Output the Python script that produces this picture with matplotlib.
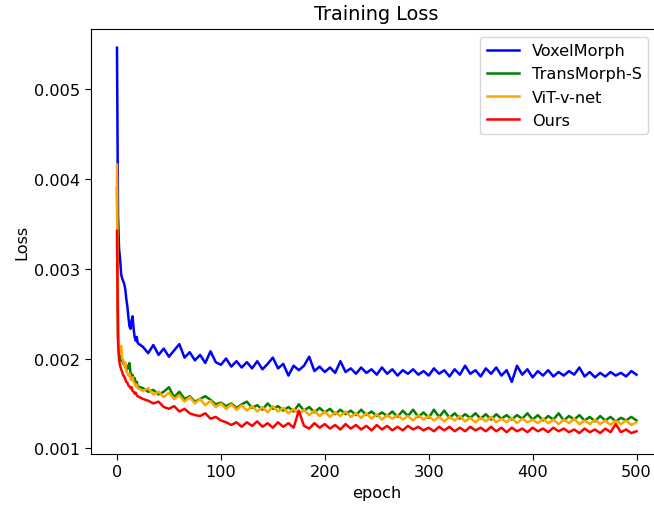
import numpy as np
import matplotlib
matplotlib.use("Agg")
import matplotlib.pyplot as plt

# epochs: every epoch up to 20, then every 5 epochs
EPOCHS = list(range(0, 21)) + list(range(25, 501, 5))

# losses in units of 1e-3
VOXELMORPH = [5.46, 3.60, 3.22, 3.11, 2.94, 2.89, 2.86, 2.83, 2.77, 2.66, 2.58,
              2.46, 2.36, 2.33, 2.42, 2.47, 2.33, 2.24, 2.20, 2.24, 2.17,
              2.13, 2.06, 2.15, 2.04, 2.11, 2.02, 2.09, 2.16, 2.01, 2.07,
              1.98, 2.04, 1.95, 2.08, 1.96, 1.93, 2.00, 1.91, 1.97, 1.90,
              1.96, 1.89, 1.97, 1.88, 1.94, 2.01, 1.89, 1.94, 1.81, 1.92,
              1.87, 1.92, 2.02, 1.86, 1.91, 1.85, 1.90, 1.84, 1.97, 1.85,
              1.89, 1.83, 1.90, 1.84, 1.88, 1.82, 1.90, 1.83, 1.88, 1.81,
              1.87, 1.83, 1.88, 1.82, 1.86, 1.81, 1.89, 1.83, 1.87, 1.80,
              1.88, 1.82, 1.92, 1.83, 1.87, 1.80, 1.89, 1.83, 1.90, 1.81,
              1.87, 1.74, 1.92, 1.82, 1.88, 1.79, 1.86, 1.81, 1.87, 1.80,
              1.85, 1.81, 1.86, 1.82, 1.90, 1.80, 1.85, 1.79, 1.84, 1.80,
              1.85, 1.81, 1.84, 1.80, 1.86, 1.82]
TRANSMORPH_S = [3.90, 2.25, 2.05, 2.02, 1.98, 1.99, 1.94, 1.96, 1.90, 1.92, 1.88,
                1.92, 1.95, 1.84, 1.80, 1.82, 1.76, 1.78, 1.72, 1.74, 1.69,
                1.67, 1.63, 1.65, 1.60, 1.63, 1.68, 1.57, 1.63, 1.55, 1.58,
                1.52, 1.55, 1.58, 1.54, 1.49, 1.51, 1.47, 1.50, 1.45, 1.49,
                1.52, 1.45, 1.48, 1.43, 1.50, 1.44, 1.47, 1.42, 1.46, 1.41,
                1.49, 1.42, 1.46, 1.40, 1.45, 1.40, 1.44, 1.38, 1.43, 1.38,
                1.42, 1.37, 1.43, 1.37, 1.41, 1.36, 1.40, 1.36, 1.41, 1.35,
                1.42, 1.36, 1.43, 1.35, 1.40, 1.34, 1.43, 1.35, 1.42, 1.34,
                1.39, 1.33, 1.38, 1.34, 1.39, 1.33, 1.38, 1.32, 1.38, 1.33,
                1.37, 1.32, 1.37, 1.33, 1.39, 1.32, 1.37, 1.31, 1.36, 1.32,
                1.39, 1.31, 1.36, 1.32, 1.37, 1.31, 1.35, 1.30, 1.36, 1.31,
                1.35, 1.30, 1.34, 1.31, 1.35, 1.31]
VIT_V_NET = [4.16, 2.30, 2.14, 2.08, 2.14, 2.00, 1.98, 1.92, 1.95, 1.86, 1.84,
             1.81, 1.83, 1.78, 1.76, 1.79, 1.74, 1.72, 1.69, 1.71, 1.67,
             1.64, 1.67, 1.60, 1.63, 1.57, 1.62, 1.55, 1.59, 1.52, 1.57,
             1.50, 1.55, 1.48, 1.53, 1.46, 1.50, 1.44, 1.49, 1.43, 1.48,
             1.42, 1.47, 1.41, 1.46, 1.40, 1.47, 1.41, 1.45, 1.39, 1.44,
             1.38, 1.43, 1.37, 1.42, 1.36, 1.41, 1.35, 1.40, 1.36, 1.41,
             1.35, 1.39, 1.34, 1.39, 1.33, 1.38, 1.32, 1.37, 1.33, 1.37,
             1.32, 1.36, 1.31, 1.37, 1.32, 1.36, 1.31, 1.35, 1.30, 1.35,
             1.31, 1.36, 1.30, 1.34, 1.29, 1.34, 1.30, 1.35, 1.29, 1.33,
             1.29, 1.34, 1.28, 1.33, 1.29, 1.32, 1.28, 1.33, 1.28, 1.32,
             1.27, 1.32, 1.28, 1.33, 1.27, 1.31, 1.27, 1.32, 1.27, 1.31,
             1.26, 1.31, 1.27, 1.31, 1.26, 1.29]
OURS = [3.42, 2.20, 1.98, 1.92, 1.88, 1.85, 1.81, 1.80, 1.77, 1.74, 1.73,
        1.70, 1.69, 1.67, 1.68, 1.64, 1.63, 1.61, 1.62, 1.59, 1.58,
        1.55, 1.53, 1.50, 1.52, 1.46, 1.44, 1.47, 1.41, 1.44, 1.39,
        1.37, 1.36, 1.39, 1.33, 1.35, 1.31, 1.29, 1.26, 1.29, 1.24,
        1.29, 1.25, 1.30, 1.24, 1.28, 1.23, 1.29, 1.24, 1.28, 1.23,
        1.42, 1.25, 1.22, 1.28, 1.23, 1.27, 1.22, 1.26, 1.21, 1.27,
        1.22, 1.26, 1.21, 1.25, 1.20, 1.26, 1.21, 1.25, 1.20, 1.24,
        1.20, 1.25, 1.21, 1.24, 1.20, 1.23, 1.19, 1.24, 1.20, 1.24,
        1.19, 1.23, 1.19, 1.24, 1.20, 1.23, 1.19, 1.24, 1.19, 1.23,
        1.18, 1.23, 1.19, 1.22, 1.18, 1.23, 1.19, 1.22, 1.18, 1.23,
        1.19, 1.22, 1.18, 1.21, 1.17, 1.22, 1.18, 1.21, 1.17, 1.22,
        1.18, 1.27, 1.18, 1.21, 1.17, 1.19]

SERIES = [("VoxelMorph", VOXELMORPH, "blue"),
          ("TransMorph-S", TRANSMORPH_S, "green"),
          ("ViT-v-net", VIT_V_NET, "orange"),
          ("Ours", OURS, "red")]

FS = 11.6  # reference looks like default styling rendered ~1.16x larger


def main():
    plt.rcParams.update({"font.size": FS, "axes.titlesize": 13.9,
                         "xtick.major.size": 4, "ytick.major.size": 4})
    fig = plt.figure(figsize=(6.54, 5.06), dpi=100)
    ax = fig.add_axes([91 / 654, 51 / 506, 571.5 / 654, 425 / 506])

    x = np.array(EPOCHS)
    for label, vals, color in SERIES:
        ax.plot(x, np.array(vals) * 1e-3, color=color, lw=1.8, label=label)

    ax.set_xlim(-25, 525)
    ax.set_ylim(0.000937, 0.005668)
    ax.set_xticks([0, 100, 200, 300, 400, 500])
    ax.set_yticks([0.001, 0.002, 0.003, 0.004, 0.005])
    ax.set_xlabel("epoch")
    ax.set_ylabel("Loss")
    ax.set_title("Training Loss", pad=7)
    ax.legend(loc="upper right", bbox_to_anchor=(648 / 654, 1 - 38 / 506),
              bbox_transform=fig.transFigure, borderaxespad=0)

    fig.savefig("out.png", dpi=100)


if __name__ == "__main__":
    main()
